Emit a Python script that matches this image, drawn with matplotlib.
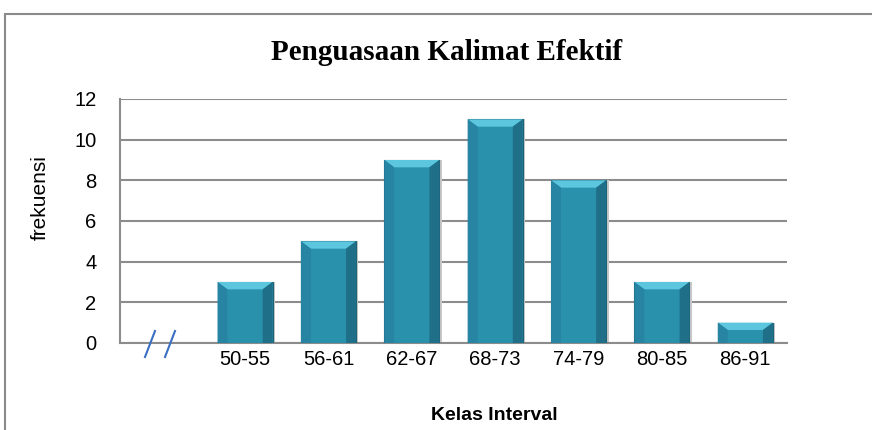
import matplotlib
matplotlib.use("Agg")
import matplotlib.pyplot as plt
from matplotlib.patches import Polygon, Rectangle
from matplotlib.lines import Line2D

categories = ["", "50-55", "56-61", "62-67", "68-73", "74-79", "80-85", "86-91"]
frekuensi = [0, 3, 5, 9, 11, 8, 3, 1]
yticks = [0, 2, 4, 6, 8, 10, 12]

fig = plt.figure(figsize=(8.72, 4.3), dpi=100)
ax = fig.add_axes([120 / 872, 1 - 343 / 430, 667 / 872, 244 / 430])

# outer chart frame (cut on right/bottom)
fig.add_artist(Rectangle((5 / 872, -0.1), 1.2, (416 + 0.1 * 430) / 430,
                         transform=fig.transFigure, fill=False,
                         edgecolor="#8a8a8a", linewidth=1.5))

x = list(range(len(categories)))
width = 0.66
bars = ax.bar(x[1:], frekuensi[1:], width=width, color="#2a91ad",
              edgecolor="#1d6378", linewidth=0.8, zorder=3)

# bevel effect
for b in bars:
    x0, w, h = b.get_x(), b.get_width(), b.get_height()
    x1 = x0 + w
    bx = w * 0.18
    by = 0.36
    top = Polygon([(x0, h), (x1, h), (x1 - bx, h - by), (x0 + bx, h - by)],
                  closed=True, facecolor="#5cc6de", edgecolor="none", zorder=4)
    left = Polygon([(x0, h), (x0 + bx, h - by), (x0 + bx, 0), (x0, 0)],
                   closed=True, facecolor="#2784a3", edgecolor="none", zorder=4)
    right = Polygon([(x1, h), (x1 - bx, h - by), (x1 - bx, 0), (x1, 0)],
                    closed=True, facecolor="#1f6f88", edgecolor="none", zorder=4)
    for p in (top, left, right):
        ax.add_patch(p)
    shadow = Rectangle((x0 + 0.03, 0), w, h, facecolor="#c8c8c8",
                       edgecolor="none", zorder=2)
    ax.add_patch(shadow)

ax.set_xlim(-0.5, len(categories) - 0.5)
ax.set_ylim(0, 12)
ax.set_yticks(yticks)
ax.set_xticks(x)
ax.set_xticklabels(categories)
ax.yaxis.grid(True, color="#8c8c8c", linewidth=1.5, zorder=0)
ax.set_axisbelow(True)
ax.tick_params(axis="both", length=0, labelsize=14.5)
ax.tick_params(axis="x", pad=5)
ax.tick_params(axis="y", pad=17)
for s in ("top", "right"):
    ax.spines[s].set_visible(False)
for s in ("left", "bottom"):
    ax.spines[s].set_color("#8c8c8c")
    ax.spines[s].set_linewidth(1.5)

for lbl in ax.get_xticklabels() + ax.get_yticklabels():
    lbl.set_fontfamily("Liberation Sans")

fig.text(40 / 872, 1 - 198 / 430, "frekuensi", rotation=90, ha="center",
         va="center", fontsize=15, fontfamily="Liberation Sans")
fig.text(494 / 872, 1 - 415 / 430, "Kelas Interval", ha="center", va="center",
         fontsize=14, fontweight="bold", fontfamily="Liberation Sans")
fig.text(447 / 872, 1 - 52 / 430, "Penguasaan Kalimat Efektif", ha="center",
         va="center", fontsize=21, fontweight="bold", fontfamily="Liberation Serif")

# axis break marks
for cx in (150, 170):
    fig.add_artist(Line2D([(cx - 5) / 872, (cx + 5) / 872],
                          [1 - 357 / 430, 1 - 331 / 430],
                          transform=fig.transFigure, color="#3a6fc4", linewidth=1.5))

fig.savefig("out.png", dpi=100)
